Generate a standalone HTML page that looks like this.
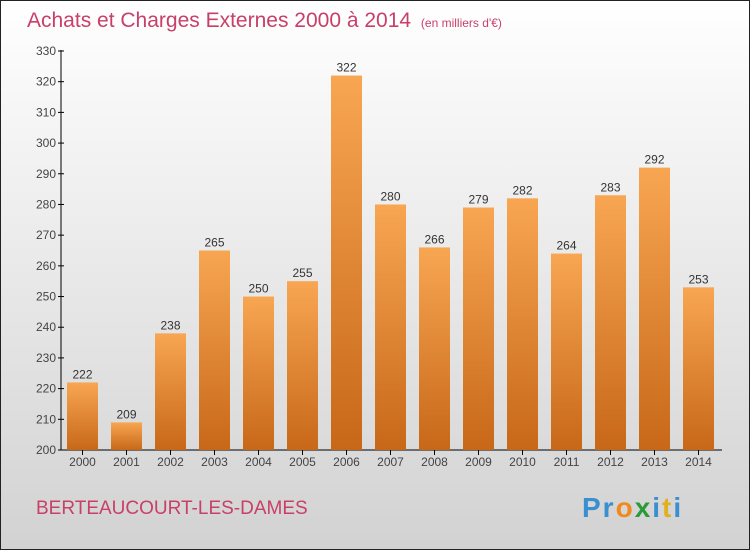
<!DOCTYPE html>
<html><head><meta charset="utf-8"><style>
body{margin:0;width:750px;height:550px;overflow:hidden}
svg{display:block;font-family:"Liberation Sans",sans-serif}
</style></head><body>
<svg width="750" height="550">
<defs>
<linearGradient id="bg" x1="0" y1="0" x2="0" y2="1"><stop offset="0" stop-color="#ffffff"/><stop offset="1" stop-color="#d2d2d2"/></linearGradient>
<linearGradient id="bar" x1="0" y1="0" x2="0" y2="1"><stop offset="0" stop-color="#f8a652"/><stop offset="1" stop-color="#c76818"/></linearGradient>
</defs>
<rect x="0.5" y="0.5" width="749" height="549" fill="url(#bg)" stroke="#222"/>
<text x="27" y="27" font-size="21" fill="#c8406a">Achats et Charges Externes 2000 à 2014 <tspan font-size="12" dx="4">(en milliers d'€)</tspan></text>
<g id="axes"></g><g id="bars"></g>
<text x="36" y="514" font-size="19" fill="#c8406a">BERTEAUCOURT-LES-DAMES</text>
<text x="582" y="517" font-size="28" font-weight="bold" letter-spacing="2"><tspan fill="#3a8fd0">Pr</tspan><tspan fill="#f08a1c">o</tspan><tspan fill="#2a9a3a">x</tspan><tspan fill="#3a8fd0">i</tspan><tspan fill="#e0b020">t</tspan><tspan fill="#3a8fd0">i</tspan></text>
</svg>
<script>
const years=["2000","2001","2002","2003","2004","2005","2006","2007","2008","2009","2010","2011","2012","2013","2014"];
const values=[222,209,238,265,250,255,322,280,266,279,282,264,283,292,253];
const ticks=[200,210,220,230,240,250,260,270,280,290,300,310,320,330];
const NS="http://www.w3.org/2000/svg";
const y=v=>450-(v-200)*(399/130);
const x=i=>82.5+i*44;
function mk(t,a,p,txt){const e=document.createElementNS(NS,t);for(const k in a)e.setAttribute(k,a[k]);if(txt!=null)e.textContent=txt;p.appendChild(e);return e;}
const ax=document.getElementById('axes'),bs=document.getElementById('bars');
let l=mk('line',{x1:61,y1:50,x2:61,y2:450,stroke:'#000'},ax);


l=mk('line',{x1:61,y1:450,x2:722,y2:450,stroke:'#000'},ax);


ticks.forEach(t=>{
 let tk=mk('line',{x1:58,x2:64,y1:y(t),y2:y(t),stroke:'#000'},ax);
 
 
 let tl=mk('text',{x:56,y:y(t)+4,'font-size':12,fill:'#444','text-anchor':'end'},ax,t);
 
 
});
years.forEach((yr,i)=>{
 let tk=mk('line',{x1:x(i),x2:x(i),y1:450,y2:455,stroke:'#000'},ax);
 
 
 let tl=mk('text',{x:x(i),y:466,'font-size':12,fill:'#444','text-anchor':'middle'},ax,yr);
 
 
 let b=mk('rect',{x:x(i)-15.5,y:y(values[i]),width:31,height:450-y(values[i]),fill:'url(#bar)'},bs);
 
 
 let v=mk('text',{x:x(i),y:y(values[i])-4,'font-size':12,fill:'#333','text-anchor':'middle'},bs,values[i]);
 
 
});
</script>
</body></html>
